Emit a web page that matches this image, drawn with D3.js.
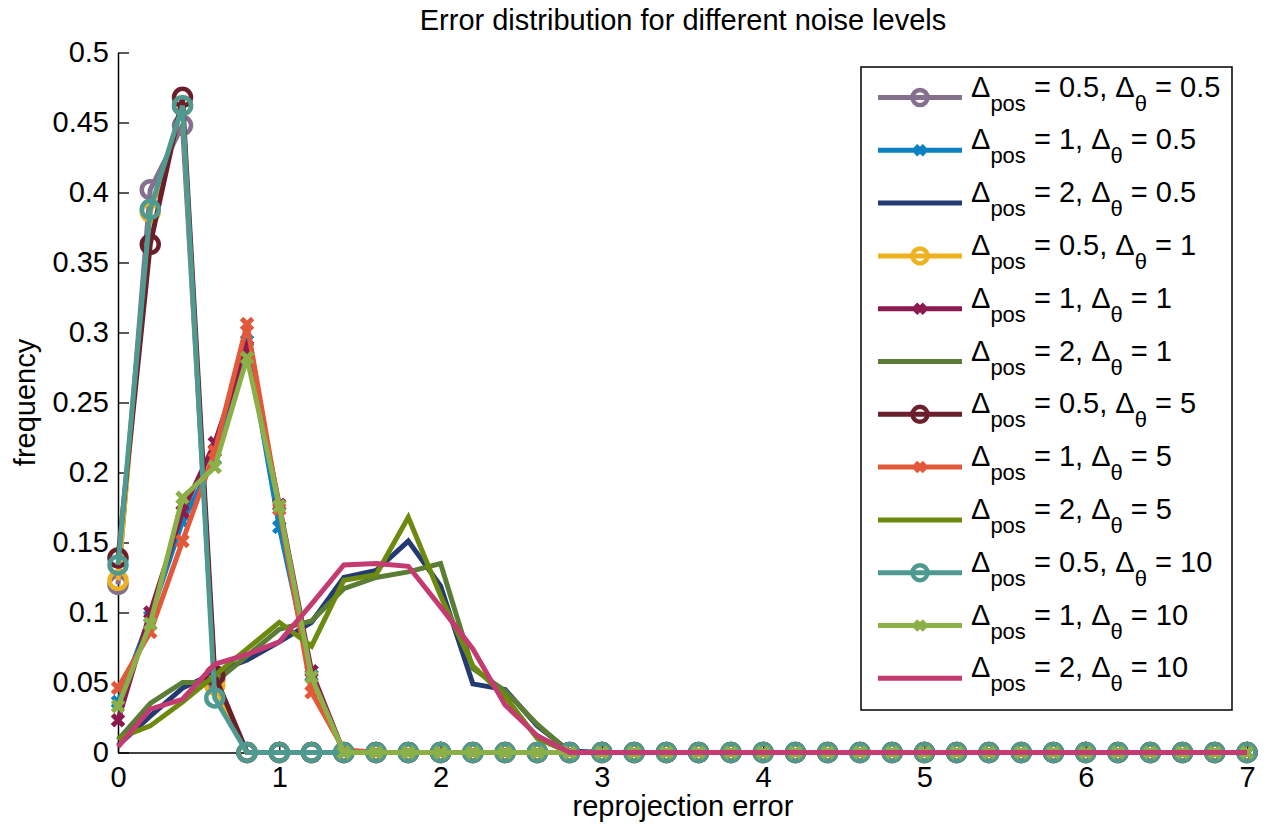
<!DOCTYPE html>
<html><head><meta charset="utf-8">
<script src="https://cdn.jsdelivr.net/npm/d3@7"></script>
<style>
body{margin:0;background:#fff}
svg{display:block}
text{font-family:"Liberation Sans",Arial,Helvetica,sans-serif;fill:#000}
</style>
</head><body>
<svg id="chart" width="1270" height="832"></svg>
<script>
// ---------- data ----------
const xValues = [0,0.2,0.4,0.6,0.8,1,1.2,1.4,1.6,1.8,2,2.2,2.4,2.6,2.8,3,3.2,3.4,3.6,3.8,4,4.2,4.4,4.6,4.8,5,5.2,5.4,5.6,5.8,6,6.2,6.4,6.6,6.8,7];

const pos05theta05 = [0.120,0.402,0.448,0.052, 0,0,0,0,0,0,0,0, 0,0,0,0,0,0,0,0, 0,0,0,0,0,0,0,0, 0,0,0,0,0,0,0,0];
const pos1theta05  = [0.036,0.097,0.165,0.210,0.294,0.161,0.055, 0, 0,0,0,0,0,0,0,0, 0,0,0,0,0,0,0,0, 0,0,0,0,0,0,0,0, 0,0,0,0];
const pos2theta05  = [0.005,0.026,0.046,0.057,0.066,0.079,0.093,0.125,0.130,0.151,0.119,0.049,0.045,0.019,0.001, 0, 0,0,0,0,0,0,0,0, 0,0,0,0,0,0,0,0, 0,0,0,0];
const pos05theta1  = [0.123,0.386,0.462,0.048, 0,0,0,0,0,0,0,0, 0,0,0,0,0,0,0,0, 0,0,0,0,0,0,0,0, 0,0,0,0,0,0,0,0];
const pos1theta1   = [0.023,0.100,0.172,0.221,0.290,0.177,0.058, 0, 0,0,0,0,0,0,0,0, 0,0,0,0,0,0,0,0, 0,0,0,0,0,0,0,0, 0,0,0,0];
const pos2theta1   = [0.009,0.035,0.050,0.050,0.069,0.088,0.094,0.117,0.125,0.129,0.135,0.060,0.044,0.020, 0,0, 0,0,0,0,0,0,0,0, 0,0,0,0,0,0,0,0, 0,0,0,0];
const pos05theta5  = [0.139,0.363,0.468,0.055, 0,0,0,0,0,0,0,0, 0,0,0,0,0,0,0,0, 0,0,0,0,0,0,0,0, 0,0,0,0,0,0,0,0];
const pos1theta5   = [0.046,0.086,0.151,0.215,0.306,0.174,0.043,0.002, 0,0,0,0,0,0,0,0, 0,0,0,0,0,0,0,0, 0,0,0,0,0,0,0,0, 0,0,0,0];
const pos2theta5   = [0.010,0.019,0.036,0.055,0.074,0.093,0.076,0.123,0.127,0.168,0.112,0.062,0.040,0.010, 0,0, 0,0,0,0,0,0,0,0, 0,0,0,0,0,0,0,0, 0,0,0,0];
const pos05theta10 = [0.134,0.388,0.462,0.039, 0,0,0,0,0,0,0,0, 0,0,0,0,0,0,0,0, 0,0,0,0,0,0,0,0, 0,0,0,0,0,0,0,0];
const pos1theta10  = [0.033,0.092,0.182,0.204,0.282,0.176,0.054, 0, 0,0,0,0,0,0,0,0, 0,0,0,0,0,0,0,0, 0,0,0,0,0,0,0,0, 0,0,0,0];
const pos2theta10  = [0.004,0.031,0.038,0.063,0.070,0.079,0.106,0.134,0.135,0.133,0.104,0.074,0.034,0.012, 0,0, 0,0,0,0,0,0,0,0, 0,0,0,0,0,0,0,0, 0,0,0,0];

const posLabels   = ["0.5","1","2","0.5","1","2","0.5","1","2","0.5","1","2"];
const thetaLabels = ["0.5","0.5","0.5","1","1","1","5","5","5","10","10","10"];
const seriesValues = [pos05theta05,pos1theta05,pos2theta05,pos05theta1,pos1theta1,pos2theta1,pos05theta5,pos1theta5,pos2theta5,pos05theta10,pos1theta10,pos2theta10];
const seriesMarkers = ["o","x","none","o","x","none","o","x","none","o","x","none"];
const seriesColors = ["#85718d","#0b80c3","#233a72","#edb21e","#8b1b4e","#5b7d36","#6b1f2a","#e2583a","#6d8a0f","#4e9a90","#8bb047","#c43b72"];

const xTicks = [0,1,2,3,4,5,6,7];
const yTicks = [0,0.05,0.1,0.15,0.2,0.25,0.3,0.35,0.4,0.45,0.5];
const yTickLabels = ["0","0.05","0.1","0.15","0.2","0.25","0.3","0.35","0.4","0.45","0.5"];

// ---------- layout ----------
const svg = d3.select("#chart");
const x = d3.scaleLinear().domain([0,7]).range([118,1247]);
const y = d3.scaleLinear().domain([0,0.5]).range([752.5,52.5]);
const FONT = 29;

// title
svg.append("text").attr("x",683).attr("y",30).attr("text-anchor","middle")
  .style("font-size",FONT+"px").text("Error distribution for different noise levels");

// axes
const yAxis = svg.append("g").attr("transform",`translate(${x(0)},0)`)
  .call(d3.axisLeft(y).tickValues(yTicks).tickFormat((d,i)=>yTickLabels[i]).tickSize(-11).tickSizeOuter(0).tickPadding(9));
const xAxis = svg.append("g").attr("transform",`translate(0,${y(0)})`)
  .call(d3.axisBottom(x).tickValues(xTicks).tickFormat(d3.format("d")).tickSize(-11).tickSizeOuter(0).tickPadding(14));
[xAxis,yAxis].forEach(g=>{
  g.selectAll("text").style("font-size",FONT+"px").style("font-family",'"Liberation Sans",Arial,sans-serif').attr("fill","#000");
  g.selectAll("line").attr("stroke","#000").attr("stroke-width",1.3);
  g.select(".domain").attr("stroke","#000").attr("stroke-width",1.5);
});

// axis labels
svg.append("text").attr("x",683).attr("y",816).attr("text-anchor","middle")
  .style("font-size",FONT+"px").text("reprojection error");
svg.append("text").attr("transform",`translate(35,${(y(0)+y(0.5))/2}) rotate(-90)`)
  .attr("text-anchor","middle").style("font-size",FONT+"px").text("frequency");

// series
const line = d3.line().x(d=>x(d[0])).y(d=>y(d[1]));
const plot = svg.append("g");
const xPath = s => `M${-s},${-s}L${s},${s}M${-s},${s}L${s},${-s}`;

seriesValues.forEach((vals,k)=>{
  const pts = vals.slice(0,xValues.length).map((v,i)=>[xValues[i],v]);
  const g = plot.append("g");
  g.append("path").datum(pts).attr("d",line).attr("fill","none")
    .attr("stroke",seriesColors[k]).attr("stroke-width",5).attr("stroke-linejoin","miter");
  if(seriesMarkers[k]==="o"){
    g.selectAll("circle").data(pts).join("circle")
      .attr("cx",d=>x(d[0])).attr("cy",d=>y(d[1])).attr("r",8.5)
      .attr("fill","none").attr("stroke",seriesColors[k]).attr("stroke-width",4.5);
  } else if(seriesMarkers[k]==="x"){
    g.selectAll("path.m").data(pts).join("path").attr("class","m")
      .attr("transform",d=>`translate(${x(d[0])},${y(d[1])})`)
      .attr("d",xPath(5.5)).attr("fill","none").attr("stroke",seriesColors[k]).attr("stroke-width",5);
  }
});

// legend
const lg = svg.append("g");
lg.append("rect").attr("x",861).attr("y",67).attr("width",371).attr("height",643)
  .attr("fill","#fff").attr("stroke","#000").attr("stroke-width",1.5);
seriesValues.forEach((vals,k)=>{
  const ry = 97.5 + k*52.8;
  lg.append("line").attr("x1",878).attr("x2",962).attr("y1",ry).attr("y2",ry)
    .attr("stroke",seriesColors[k]).attr("stroke-width",5);
  if(seriesMarkers[k]==="o"){
    lg.append("circle").attr("cx",920).attr("cy",ry).attr("r",7.5)
      .attr("fill","none").attr("stroke",seriesColors[k]).attr("stroke-width",4.5);
  } else if(seriesMarkers[k]==="x"){
    lg.append("path").attr("transform",`translate(920,${ry})`).attr("d",xPath(4.5))
      .attr("fill","none").attr("stroke",seriesColors[k]).attr("stroke-width",5);
  }
  const t = lg.append("text").attr("x",971).attr("y",ry-1).style("font-size",FONT+"px");
  t.append("tspan").text("Δ");
  t.append("tspan").attr("dy",14).style("font-size","22px").text("pos");
  t.append("tspan").attr("dy",-14).text(` = ${posLabels[k]}, Δ`);
  t.append("tspan").attr("dy",14).style("font-size","22px").text("θ");
  t.append("tspan").attr("dy",-14).text(` = ${thetaLabels[k]}`);
});
</script>
</body></html>
